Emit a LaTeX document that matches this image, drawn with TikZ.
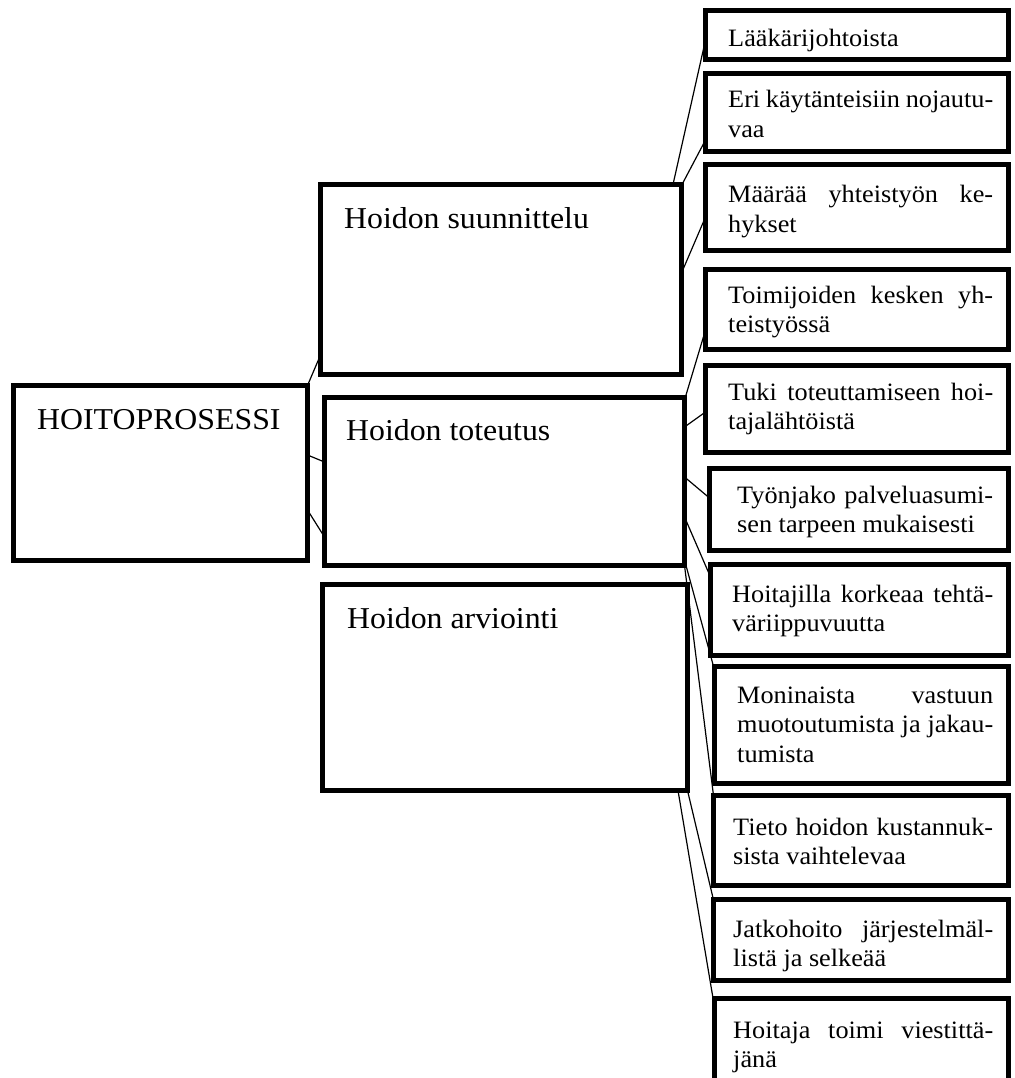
\documentclass[tikz,border=0pt]{standalone}
\usepackage{fontspec}
\setmainfont{Liberation Serif}[FakeStretch=1.05]
% frame from outer corner (x1,y1) to (x2,y2); border drawn inside those edges
\newcommand\mkframe[5]{\node[frame, minimum width={#4-#2-5}, minimum height={#5-#3-5}] (#1) at ({(#2+#4)/2},{(#3+#5)/2}) {};}
% one fully justified line of a given width
\newcommand\jline[2]{\makebox[#1pt][s]{#2}}
\begin{document}
\begin{tikzpicture}[x=1pt,y=-1pt,
  frame/.style={draw, line width=5pt, inner sep=0pt, outer sep=0pt},
  conn/.style={line width=1.2pt},
  head/.style={anchor=base west, inner sep=0pt, font=\fontsize{30.3}{35}\selectfont},
  item/.style={anchor=base west, inner sep=0pt, font=\fontsize{25}{29.5}\selectfont}]
\useasboundingbox (0,0) rectangle (1014,1078);

% ---- texts ----
\node[head] (th) at (37,429) {HOITOPROSESSI};
\node[head] (ts) at (344,228) {Hoidon suunnittelu};
\node[head] (tt) at (346,440) {Hoidon toteutus};
\node[head] (ta) at (347,628) {Hoidon arviointi};

\node[item] (t1) at (728,47) {Lääkärijohtoista};
\node[item] (t2) at (728,108) {\parbox[t]{265pt}{\jline{265}{Eri käytänteisiin nojautu-}\\vaa}};
\node[item] (t3) at (728,203) {\parbox[t]{265pt}{\jline{265}{Määrää yhteistyön ke-}\\hykset}};
\node[item] (t4) at (728,303) {\parbox[t]{265pt}{\jline{265}{Toimijoiden kesken yh-}\\teistyössä}};
\node[item] (t5) at (728,400) {\parbox[t]{265pt}{\jline{265}{Tuki toteuttamiseen hoi-}\\tajalähtöistä}};
\node[item] (t6) at (737,503) {\parbox[t]{256pt}{\jline{256}{Työnjako palveluasumi-}\\sen tarpeen mukaisesti}};
\node[item] (t7) at (732,602) {\parbox[t]{261pt}{\jline{261}{Hoitajilla korkeaa tehtä-}\\väriippuvuutta}};
\node[item] (t8) at (737,703) {\parbox[t]{256pt}{\jline{256}{Moninaista vastuun}\\\jline{256}{muotoutumista ja jakau-}\\tumista}};
\node[item] (t9) at (733,835) {\parbox[t]{260pt}{\jline{260}{Tieto hoidon kustannuk-}\\sista vaihtelevaa}};
\node[item] (t10) at (733,937) {\parbox[t]{260pt}{\jline{260}{Jatkohoito järjestelmäl-}\\listä ja selkeää}};
\node[item] (t11) at (733,1038) {\parbox[t]{260pt}{\jline{260}{Hoitaja toimi viestittä-}\\jänä}};

% ---- frames ----
\mkframe{h}{11}{383}{310}{563}
\mkframe{s}{318}{182}{684}{377}
\mkframe{t}{322}{395}{687}{568}
\mkframe{a}{320}{582}{690}{793}

\mkframe{b1}{703}{8}{1011}{62}
\mkframe{b2}{703}{71}{1011}{154}
\mkframe{b3}{703}{162}{1011}{253}
\mkframe{b4}{703}{267}{1011}{352}
\mkframe{b5}{703}{363}{1011}{455}
\mkframe{b6}{707}{466}{1011}{553}
\mkframe{b7}{708}{562}{1011}{658}
\mkframe{b8}{712}{664}{1011}{786}
\mkframe{b9}{711}{793}{1011}{888}
\mkframe{b10}{711}{897}{1011}{983}
\mkframe{b11}{712}{996}{1011}{1100}

% ---- connectors ----
\draw[conn] (h.north east) -- (s.west |- 0,355);
\draw[conn] (h.east |- 0,455) -- (t.west |- 0,462);
\draw[conn] (h.east |- 0,510) -- (t.west |- 0,537);

\draw[conn] (s.north east -| 673,0) -- (b1.west |- 0,40);
\draw[conn] (s.north east -| 682,0) -- (b2.west |- 0,140);
\draw[conn] (s.east |- 0,273) -- (b3.west |- 0,217);

\draw[conn] (t.east |- 0,400) -- (b4.west |- 0,330);
\draw[conn] (t.east |- 0,427) -- (b5.west |- 0,412);
\draw[conn] (t.east |- 0,477) -- (b6.west |- 0,498);
\draw[conn] (t.east |- 0,517) -- (b7.west |- 0,577);
\draw[conn] (t.east |- 0,560) -- (b8.west |- 0,670);
\draw[conn] (t.south east) -- (b9.north west);

\draw[conn] (a.south east) -- (b10.west |- 0,900);
\draw[conn] (a.south east -| 678,0) -- (b11.west |- 0,1007);
\end{tikzpicture}
\end{document}
